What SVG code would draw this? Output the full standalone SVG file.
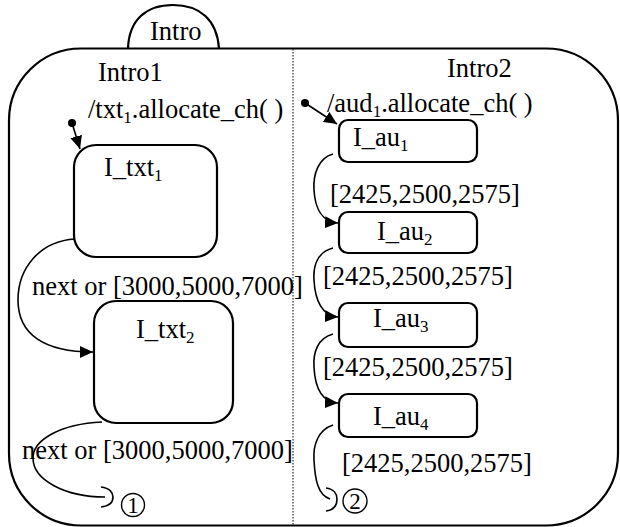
<svg xmlns="http://www.w3.org/2000/svg" width="620" height="527" viewBox="0 0 620 527">
<style>
text{font-family:"Liberation Serif","Times New Roman","DejaVu Serif",serif;font-size:26.5px;fill:#000}
.sub{font-size:17px}
.num{font-size:23px}
.st{fill:#fff;stroke:#000;stroke-width:2.2}
.tr{fill:none;stroke:#000;stroke-width:1.6}
.ct{fill:none;stroke:#000;stroke-width:1.6}
</style>
<defs>
<marker id="ah" markerUnits="userSpaceOnUse" markerWidth="14" markerHeight="12" refX="13" refY="6" orient="auto">
<path d="M0,0 L13,6 L0,12 z" fill="#000"/>
</marker>
</defs>
<rect width="620" height="527" fill="#fff"/>
<g id="intro" font-family="Liberation Serif, Times New Roman, serif">
<rect x="9" y="48.5" width="609" height="477" rx="72" ry="72" fill="none" stroke="#000" stroke-width="2.2"/>
<path d="M128,48.5 C129,20 146,5 173,5 C200,5 217,20 219,48.5" fill="none" stroke="#000" stroke-width="2.2"/>
<text x="150" y="40">Intro</text>
<line x1="293" y1="49" x2="293" y2="526" stroke="#000" stroke-width="1" stroke-dasharray="1.5,1.5"/>
<text x="98" y="81">Intro1</text>
<text x="447" y="77">Intro2</text>
</g>
<g id="I_txt1" font-family="Liberation Serif, Times New Roman, serif">
<rect class="st" x="74" y="145" width="143" height="112" rx="22"/>
<text x="104" y="176">I_txt<tspan class="sub" dy="5">1</tspan></text>
</g>
<g id="I_txt2" font-family="Liberation Serif, Times New Roman, serif">
<rect class="st" x="94" y="301" width="139" height="122" rx="22"/>
<text x="136" y="338">I_txt<tspan class="sub" dy="5">2</tspan></text>
</g>
<g id="I_au1" font-family="Liberation Serif, Times New Roman, serif">
<rect class="st" x="339" y="120" width="138" height="42" rx="9"/>
<text x="353" y="146">I_au<tspan class="sub" dy="5">1</tspan></text>
</g>
<g id="I_au2" font-family="Liberation Serif, Times New Roman, serif">
<rect class="st" x="339" y="212" width="138" height="41" rx="9"/>
<text x="377" y="240">I_au<tspan class="sub" dy="5">2</tspan></text>
</g>
<g id="I_au3" font-family="Liberation Serif, Times New Roman, serif">
<rect class="st" x="339" y="303" width="138" height="44" rx="9"/>
<text x="373" y="327">I_au<tspan class="sub" dy="5">3</tspan></text>
</g>
<g id="I_au4" font-family="Liberation Serif, Times New Roman, serif">
<rect class="st" x="339" y="394" width="138" height="43" rx="9"/>
<text x="373" y="425">I_au<tspan class="sub" dy="5">4</tspan></text>
</g>
<g id="conn1" font-family="Liberation Serif, Times New Roman, serif">
<path class="ct" d="M101,487 C110,488 113,493 113,497 C113,502 110,506 101,507"/>
<circle cx="133" cy="505" r="11.5" fill="none" stroke="#000" stroke-width="1.4"/>
<text class="num" x="133" y="513" text-anchor="middle">1</text>
</g>
<g id="conn2" font-family="Liberation Serif, Times New Roman, serif">
<path class="ct" d="M326,488 C334,489 337,494 337,499 C337,505 334,510 326,511"/>
<circle cx="355" cy="501" r="12" fill="none" stroke="#000" stroke-width="1.4"/>
<text class="num" x="355" y="509" text-anchor="middle">2</text>
</g>
<g id="connectors" font-family="Liberation Serif, Times New Roman, serif">
<circle cx="72" cy="123" r="4" fill="#000"/>
<line class="tr" x1="72" y1="123" x2="80" y2="149" marker-end="url(#ah)"/>
<text x="88" y="118">/txt<tspan class="sub" dy="5">1</tspan><tspan dy="-5">.allocate_ch( )</tspan></text>
<path class="tr" d="M75,239 C40,241 18,268 18,300 C18,335 45,352 93,352" marker-end="url(#ah)"/>
<text x="32" y="295">next or [3000,5000,7000]</text>
<path class="tr" d="M102,422 C60,424 33,440 33,458 C33,480 65,497 105,497"/>
<text x="22" y="459">next or [3000,5000,7000]</text>
<circle cx="305" cy="103" r="4" fill="#000"/>
<line class="tr" x1="305" y1="103" x2="337" y2="124" marker-end="url(#ah)"/>
<text x="327" y="112">/aud<tspan class="sub" dy="5">1</tspan><tspan dy="-5">.allocate_ch( )</tspan></text>
<path class="tr" d="M333,154 C318,158 313,175 314,190 C315,208 322,222 338,223" marker-end="url(#ah)"/>
<text x="330" y="203">[2425,2500,2575]</text>
<path class="tr" d="M333,248 C318,252 313,265 314,280 C315,300 322,316 338,317" marker-end="url(#ah)"/>
<text x="323" y="285">[2425,2500,2575]</text>
<path class="tr" d="M333,334 C318,338 313,352 314,367 C315,388 322,402 338,403" marker-end="url(#ah)"/>
<text x="323" y="376">[2425,2500,2575]</text>
<path class="tr" d="M333,425 C318,430 313,445 314,460 C315,480 318,495 330,499"/>
<text x="342" y="472">[2425,2500,2575]</text>
</g>
</svg>
